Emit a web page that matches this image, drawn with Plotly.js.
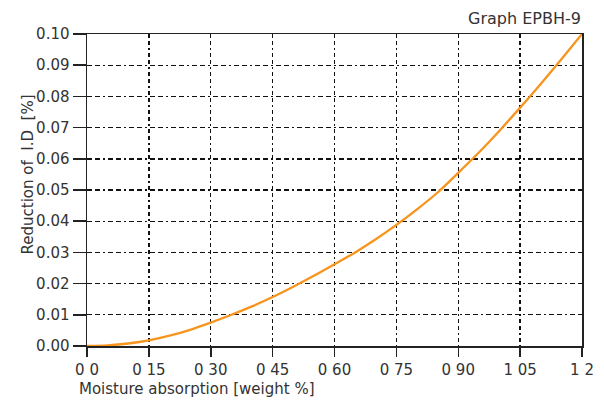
<!DOCTYPE html>
<html>
<head>
<meta charset="utf-8">
<script src="https://cdn.plot.ly/plotly-3.0.1.min.js"></script>
<style>html,body{margin:0;padding:0;background:#fff;}#chart{width:604px;height:401px;}</style>
</head>
<body>
<div id="chart"></div>
<script>
const moisture = [0, 0.05, 0.10, 0.15, 0.20, 0.25, 0.30, 0.35, 0.40, 0.45, 0.50, 0.55, 0.60, 0.65, 0.70, 0.75, 0.80, 0.85, 0.90, 0.95, 1.00, 1.05, 1.10, 1.15, 1.20];
const reduction = [0.0000, 0.0002, 0.0008, 0.0018, 0.0033, 0.0052, 0.0075, 0.0100, 0.0127, 0.0157, 0.0190, 0.0225, 0.0262, 0.0300, 0.0342, 0.0388, 0.0438, 0.0492, 0.0555, 0.0620, 0.0690, 0.0764, 0.0840, 0.0919, 0.1000];
const xTickVals = [0, 0.15, 0.30, 0.45, 0.60, 0.75, 0.90, 1.05, 1.2];
const xTickText = ["0 0", "0 15", "0 30", "0 45", "0 60", "0 75", "0 90", "1 05", "1 2"];
const yTickVals = [0, 0.01, 0.02, 0.03, 0.04, 0.05, 0.06, 0.07, 0.08, 0.09, 0.10];
const yTickText = ["0.00", "0.01", "0.02", "0.03", "0.04", "0.05", "0.06", "0.07", "0.08", "0.09", "0.10"];
const chartTitle = "Graph EPBH-9";
const xTitle = "Moisture absorption [weight %]";
const yTitle = "Reduction of\u00a0\u00a0I.D\u00a0\u00a0[%]";

const FONT = "DejaVu Sans, Arial, sans-serif";
const trace = {
  x: moisture, y: reduction, type: "scatter", mode: "lines",
  line: {color: "#F7941D", width: 2.3, shape: "spline", smoothing: 0.8},
  hoverinfo: "skip"
};
const layout = {
  width: 604, height: 401,
  margin: {l: 87, r: 22, t: 34, b: 55, pad: 0},
  paper_bgcolor: "#fff", plot_bgcolor: "#fff",
  showlegend: false,
  font: {family: FONT, size: 15, color: "#333"},
  xaxis: {
    range: [0, 1.2], tickmode: "array", tickvals: xTickVals, ticktext: xTickText,
    ticks: "outside", ticklen: 9, tickwidth: 1.5, tickcolor: "#222",
    showline: true, linecolor: "#222", linewidth: 1.5, mirror: true,
    showgrid: true, gridcolor: "#111", gridwidth: 1.4, griddash: "4px,3px,4px,3px,2px,3px",
    zeroline: false, tickfont: {family: FONT, size: 15, color: "#333"}
  },
  yaxis: {
    range: [0, 0.10], tickmode: "array", tickvals: yTickVals, ticktext: yTickText,
    ticks: "outside", ticklen: 13, tickwidth: 1.5, tickcolor: "#222",
    showline: true, linecolor: "#222", linewidth: 1.5, mirror: true,
    showgrid: true, gridcolor: "#111", gridwidth: 1.4, griddash: "5px,3px,5px,3px,2px,3px",
    zeroline: false, tickfont: {family: FONT, size: 15, color: "#333"}
  },
  annotations: [
    {text: chartTitle, xref: "paper", yref: "paper", x: 1.002, y: 1.051, xanchor: "right", yanchor: "middle", showarrow: false, font: {family: FONT, size: 16, color: "#333"}},
    {text: xTitle, xref: "paper", yref: "paper", x: -0.0202, y: -0.138, xanchor: "left", yanchor: "middle", showarrow: false, font: {family: FONT, size: 15, color: "#333"}},
    {text: yTitle, xref: "paper", yref: "paper", x: -0.119, y: 0.55, xanchor: "center", yanchor: "middle", textangle: -90, showarrow: false, font: {family: FONT, size: 15, color: "#333"}}
  ]
};
Plotly.newPlot("chart", [trace], layout, {staticPlot: true, displayModeBar: false});
</script>
</body>
</html>
